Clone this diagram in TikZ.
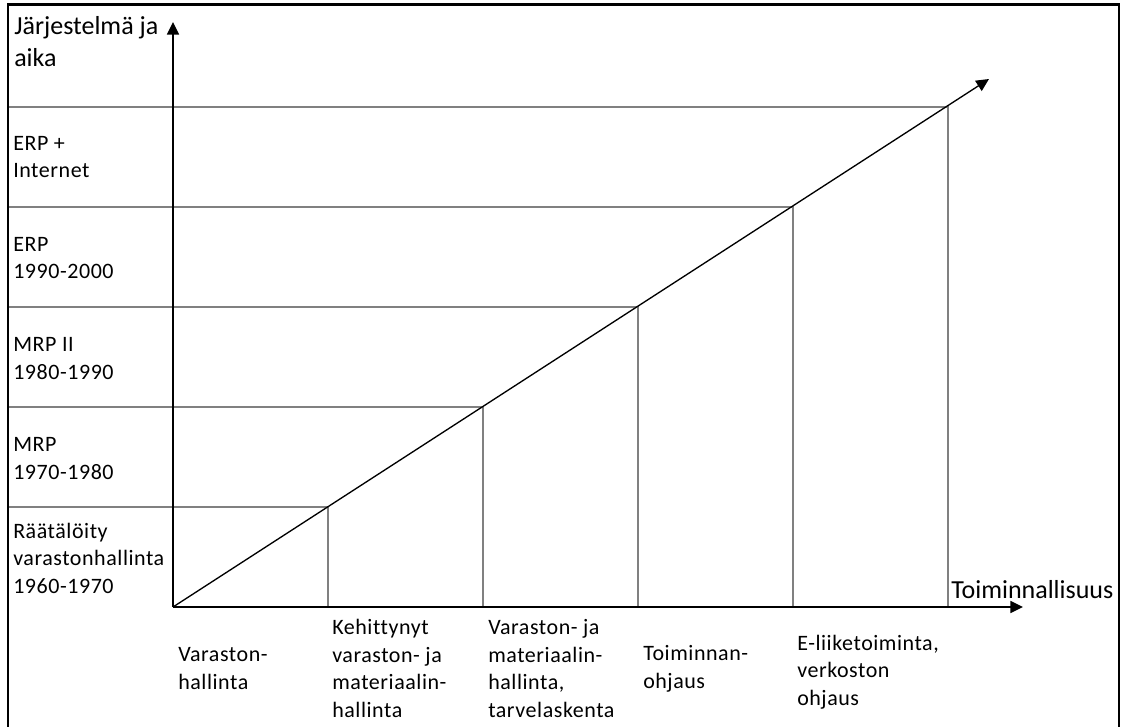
\documentclass[tikz,border=0pt]{standalone}
\usepackage{fontspec}
\setmainfont{Carlito}[Ligatures=NoCommon]
\newfontfamily\labelfont[LetterSpace=2.5,Ligatures=NoCommon]{Carlito}
\usetikzlibrary{arrows.meta}

\begin{document}
\begin{tikzpicture}[x=0.75pt,y=-0.75pt,
  axis/.style={line width=1.2pt, -{Triangle[length=9.5pt,width=9pt]}},
  gridline/.style={draw=gray, line width=1.1pt},
  frame/.style={draw=black, line width=2pt},
  lab/.style={font=\labelfont\fontsize{16.5}{20.6}\selectfont, align=left, inner sep=0pt, anchor=base west},
  big/.style={font=\fontsize{19.5}{24}\selectfont, align=left, inner sep=0pt, anchor=base west}]
\useasboundingbox (0,0) rectangle (1124,727);
\clip (0,0) rectangle (1124,727);

% origin, stair points on the diagonal, their feet on the left frame and on the x-axis
\coordinate (O) at (173,607);
\foreach \k in {1,...,5} {
  \coordinate (p\k) at ({173+155*\k},{607-100*\k});
  \coordinate (l\k) at (8,{607-100*\k});
  \coordinate (f\k) at ({173+155*\k},607);
}
\coordinate (ytip) at (173,22);
\coordinate (xtip) at (1023,607);
\coordinate (dtip) at (989,79);

% grey grid: horizontal from the frame to the diagonal, then down to the x-axis
\foreach \k in {1,...,5} {
  \draw[gridline] (l\k) -- (p\k) -- (f\k);
}

% outer frame (open at the bottom edge)
\draw[frame] (8,740) -- (8,4.7) -- (1119,4.7) -- (1119,740);

% axes and the growth diagonal
\draw[axis] (O) -- (ytip);
\draw[axis] (O) -- (xtip);
\draw[axis, line width=1pt] (O) -- (dtip);

% axis titles (multi-line nodes are placed by the baseline of their last line)
\node[big] (ylab) at (14,67) {Järjestelmä ja\\aika};
\node[big] (xlab) at (951,598) {Toiminnallisuus};

% system generations
\node[lab] (r1) at (13,593) {Räätälöity\\varastonhallinta\\1960-1970};
\node[lab] (r2) at (13,479) {MRP\\1970-1980};
\node[lab] (r3) at (13,379) {MRP II\\1980-1990};
\node[lab] (r4) at (13,279) {ERP\\1990-2000};
\node[lab] (r5) at (13,178) {ERP +\\Internet};

% functionality levels
\node[lab] (c1) at (178,689) {Varaston-\\hallinta};
\node[lab] (c2) at (332,717) {Kehittynyt\\varaston- ja\\materiaalin-\\hallinta};
\node[lab] (c3) at (488,717) {Varaston- ja\\materiaalin-\\hallinta,\\tarvelaskenta};
\node[lab] (c4) at (643,688) {Toiminnan-\\ohjaus};
\node[lab] (c5) at (797,705) {E-liiketoiminta,\\verkoston\\ohjaus};
\end{tikzpicture}
\end{document}
